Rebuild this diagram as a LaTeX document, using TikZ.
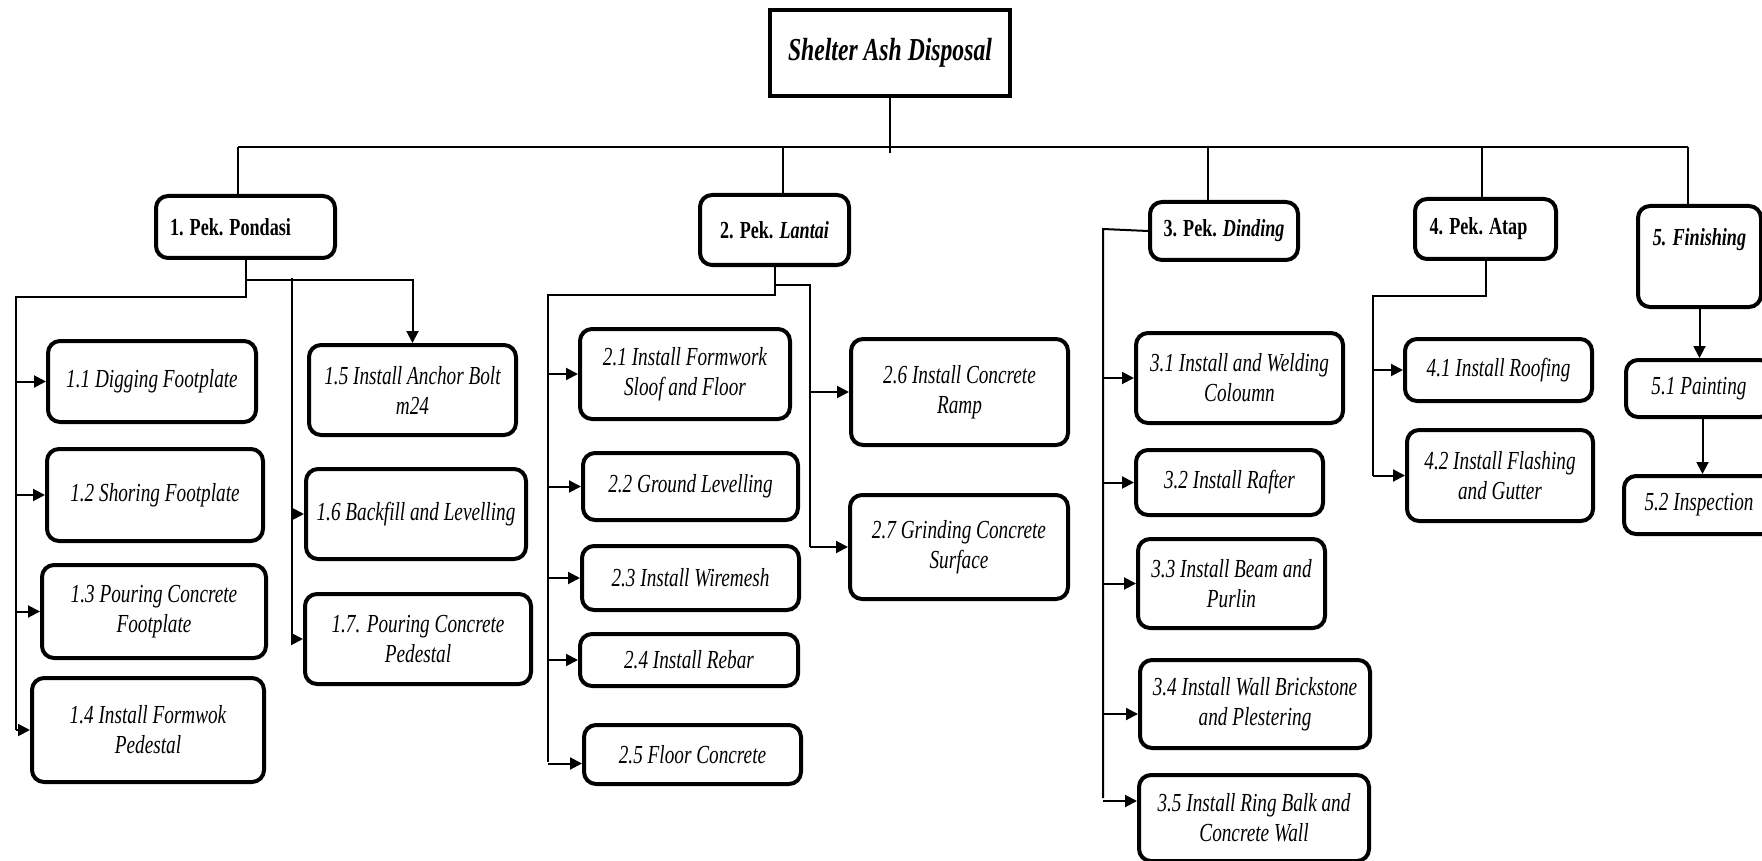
\documentclass[tikz,border=0pt]{standalone}
\usepackage{fontspec}
\setmainfont{Liberation Serif}[FakeStretch=0.74]
\usetikzlibrary{arrows.meta}
\begin{document}
\begin{tikzpicture}[x=1pt,y=-1pt,
  conn/.style={line width=2pt},
  arr/.style={line width=2pt,-{Triangle[length=12pt,width=12pt]}},
  subbox/.style={draw,line width=4pt,rounded corners=12pt,align=center,inner sep=0pt,anchor=north west,
    font=\fontsize{26}{30}\selectfont\itshape},
  lvlbox/.style={draw,line width=4pt,rounded corners=12pt,inner sep=0pt,anchor=north west,
    font=\fontsize{24.5}{28}\selectfont\bfseries},
  rootbox/.style={draw,line width=4pt,inner sep=0pt,anchor=north west,
    font=\fontsize{32}{36}\selectfont\bfseries\itshape}]
\useasboundingbox (0,0) rectangle (1762,861);

% root and level 1
\node[rootbox,minimum width=240pt,minimum height=86pt] (root) at (768,8) {Shelter Ash Disposal};
\node[lvlbox,minimum width=179pt,minimum height=62pt] (p1) at (154,194) {1. Pek. Pondasi\hskip30pt\null};
\node[lvlbox,minimum width=149pt,minimum height=70pt] (p2) at (698,193) {2. Pek. \textit{Lantai}};
\node[lvlbox,minimum width=148pt,minimum height=58pt] (p3) at (1148,200) {3. Pek. \textit{Dinding}};
\node[lvlbox,minimum width=141pt,minimum height=60pt] (p4) at (1413,197) {4. Pek. Atap\hskip14pt\null};
\node[lvlbox,minimum width=123pt,minimum height=101pt,text height=40pt,text depth=61pt] (p5) at (1636,204) {\textit{5. Finishing}};

% level 2: Pondasi
\node[subbox,minimum width=208pt,minimum height=81pt] (b11) at (46,339) {1.1 Digging Footplate};
\node[subbox,minimum width=216pt,minimum height=92pt] (b12) at (45,447) {1.2 Shoring Footplate};
\node[subbox,minimum width=224pt,minimum height=93pt] (b13) at (40,563) {1.3 Pouring Concrete\\Footplate};
\node[subbox,minimum width=232pt,minimum height=104pt] (b14) at (30,676) {1.4 Install Formwok\\Pedestal};
\node[subbox,minimum width=207pt,minimum height=90pt] (b15) at (307,343) {1.5 Install Anchor Bolt\\m24};
\node[subbox,minimum width=220pt,minimum height=90pt] (b16) at (304,467) {1.6 Backfill and Levelling};
\node[subbox,minimum width=226pt,minimum height=90pt] (b17) at (303,592) {1.7. Pouring Concrete\\Pedestal};
% Lantai
\node[subbox,minimum width=210pt,minimum height=90pt] (b21) at (578,327) {2.1 Install Formwork\\Sloof and Floor};
\node[subbox,minimum width=215pt,minimum height=67pt] (b22) at (581,451) {2.2 Ground Levelling};
\node[subbox,minimum width=217pt,minimum height=64pt] (b23) at (580,544) {2.3 Install Wiremesh};
\node[subbox,minimum width=218pt,minimum height=52pt] (b24) at (578,632) {2.4 Install Rebar};
\node[subbox,minimum width=217pt,minimum height=59pt] (b25) at (582,723) {2.5 Floor Concrete};
\node[subbox,minimum width=217pt,minimum height=106pt] (b26) at (849,337) {2.6 Install Concrete\\Ramp};
\node[subbox,minimum width=218pt,minimum height=104pt] (b27) at (848,493) {2.7 Grinding Concrete\\Surface};
% Dinding
\node[subbox,minimum width=207pt,minimum height=90pt] (b31) at (1134,331) {3.1 Install and Welding\\Coloumn};
\node[subbox,minimum width=187pt,minimum height=65pt] (b32) at (1134,448) {3.2 Install Rafter};
\node[subbox,minimum width=187pt,minimum height=89pt] (b33) at (1136,537) {3.3 Install Beam and\\Purlin};
\node[subbox,minimum width=230pt,minimum height=88pt] (b34) at (1138,658) {3.4 Install Wall Brickstone\\and Plestering};
\node[subbox,minimum width=230pt,minimum height=86pt] (b35) at (1137,773) {3.5 Install Ring Balk and\\Concrete Wall};
% Atap
\node[subbox,minimum width=187pt,minimum height=62pt] (b41) at (1403,337) {4.1 Install Roofing};
\node[subbox,minimum width=186pt,minimum height=91pt] (b42) at (1405,428) {4.2 Install Flashing\\and Gutter};
% Finishing
\node[subbox,minimum width=146pt,minimum height=57pt] (b51) at (1624,358) {5.1 Painting};
\node[subbox,minimum width=150pt,minimum height=58pt] (b52) at (1622,474) {5.2 Inspection};

% main bus
\coordinate (busL) at (238,147);
\coordinate (busR) at (1688,147);
\draw[conn] (busL) -- (busR);
\draw[conn] (root.south) -- ([yshift=-6pt]root.south |- busL);
\draw[conn] (busL) -- (busL |- p1.north);
\draw[conn] ([xshift=8.5pt]p2.north |- busL) -- ([xshift=8.5pt]p2.north);
\draw[conn] ([xshift=-16pt]p3.north |- busL) -- ([xshift=-16pt]p3.north);
\draw[conn] ([xshift=-3.5pt]p4.north |- busL) -- ([xshift=-3.5pt]p4.north);
\draw[conn] (busR) -- (busR |- p5.north);

% Pondasi
\coordinate (t1) at (16,297);
\coordinate (t2) at (292,278);
\draw[conn] (p1.south) |- (t1) -- (t1 |- b14.west);
\foreach \b in {b11,b12,b13,b14} \draw[arr] (t1 |- \b.west) -- (\b.west);
\draw[arr] ([yshift=-20pt]p1.south) -| (b15.north);
\draw[conn] (t2) -- (t2 |- b17.west);
\foreach \b in {b16,b17} \draw[arr] (t2 |- \b.west) -- (\b.west);

% Lantai
\coordinate (t3) at (548,295);
\coordinate (t4) at (810,285);
\draw[conn] (p2.south) |- (t3) -- (t3 |- 0,762);
\foreach \b in {b21,b22,b23,b24} \draw[arr] (t3 |- \b.west) -- (\b.west);
\draw[arr] ([yshift=-9pt]b25.west -| t3) -- ([yshift=-9pt]b25.west);
\draw[conn] (p2.south |- t4) -- (t4) -- (t4 |- b27.west);
\foreach \b in {b26,b27} \draw[arr] (t4 |- \b.west) -- (\b.west);

% Dinding
\coordinate (t5) at (1103,229);
\draw[conn] (p3.west) -- (t5) -- (t5 |- 0,798);
\foreach \b in {b31,b32,b33} \draw[arr] (t5 |- \b.west) -- (\b.west);
\draw[arr] ([yshift=-10pt]b34.west -| t5) -- ([yshift=-10pt]b34.west);
\draw[arr] ([yshift=17pt]b35.west -| t5) -- ([yshift=17pt]b35.west);

% Atap
\coordinate (t6) at (1373,296);
\draw[conn] (p4.south) |- (t6) -- (t6 |- b42.west);
\foreach \b in {b41,b42} \draw[arr] (t6 |- \b.west) -- (\b.west);

% Finishing
\draw[arr] (p5.south) -- (p5.south |- b51.north);
\draw[arr] ([xshift=3pt]b51.south -| p5.south) -- ([xshift=3pt]b52.north -| p5.south);
\end{tikzpicture}
\end{document}
